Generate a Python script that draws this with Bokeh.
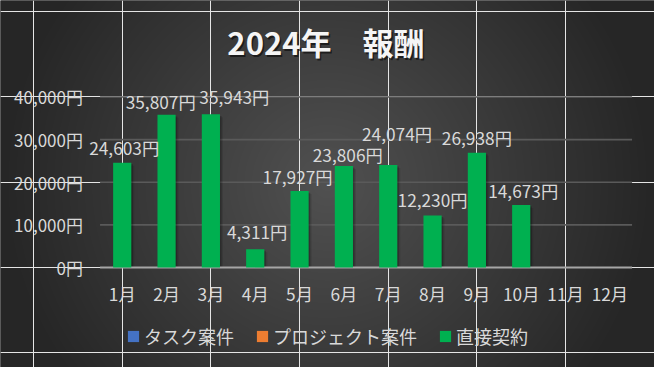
import numpy as np
from bokeh.plotting import figure
from bokeh.models import Range1d, ColumnDataSource, Legend, LegendItem
from bokeh.core.properties import value
from bokeh.embed import file_html
from bokeh.resources import INLINE

# ---------------- data ----------------
title_text = "2024年　報酬"
months = ["1月", "2月", "3月", "4月", "5月", "6月",
          "7月", "8月", "9月", "10月", "11月", "12月"]
series_names = ["タスク案件", "プロジェクト案件", "直接契約"]
task_values = [0, 0, 0, 0, 0, 0, 0, 0, 0, 0, 0, 0]
project_values = [0, 0, 0, 0, 0, 0, 0, 0, 0, 0, 0, 0]
direct_values = [24603, 35807, 35943, 4311, 17927, 23806,
                 24074, 12230, 26938, 14673, None, None]
y_ticks = [0, 10000, 20000, 30000, 40000]
y_tick_labels = ["0円", "10,000円", "20,000円", "30,000円", "40,000円"]

# ---------------- styles / layout ----------------
series_colors = ["#4472C4", "#ED7D31", "#00B050"]
label_dx = [2, -6, 24, 2, -2, 4, 9, 0, 0, 2]      # px, label shifts (Excel layout)
label_gap = [3, 1, 6, 5, 2, -1, 20, 4, 3, 2]      # px above bar top
FONT = "Noto Sans CJK JP"
TXT = "#d9d9d9"
LBL_SIZE = "17.3px"

W, H = 654, 367
REF_W, REF_H = 670.0, 383.0
SX, SY = W / REF_W, H / REF_H
# layout in reference pixels, scaled to canvas
PLOT_L, PLOT_R = 102.0 * SX, 647.0 * SX
Y0_PX, YTOP_PX = 278.7 * SY, 100.7 * SY
YTOP_VAL = 40000.0
BAR_W = 0.41

n = len(months)
cw = (PLOT_R - PLOT_L) / n
ppu = (Y0_PX - YTOP_PX) / YTOP_VAL
x_start = -0.5 - PLOT_L / cw
x_end = x_start + W / cw
y_start = -(H - Y0_PX) / ppu
y_end = y_start + H / ppu


def px_x(px):
    return x_start + px / cw


def px_y(py):
    return y_end - py / ppu


p = figure(width=W, height=H, x_range=Range1d(x_start, x_end),
           y_range=Range1d(y_start, y_end), output_backend="svg",
           toolbar_location=None, tools="", x_axis_location=None,
           y_axis_location=None, min_border=0, outline_line_color=None,
           background_fill_color="#262626", border_fill_color="#262626")

# radial background gradient (slightly oversized to avoid edge seams)
PAD = 4
GW, GH = W + 2 * PAD, H + 2 * PAD
yy, xx = np.mgrid[0:GH, 0:GW]
cy = ((GH - 0.5 - yy) - PAD) / SY
cx = ((xx + 0.5) - PAD) / SX
t = np.clip(np.hypot(cx - 335.0, cy - 191.5) / 335.0, 0, 1)
g = (0x51 + (0x26 - 0x51) * t).astype(np.uint8)
img = np.empty((GH, GW), dtype=np.uint32)
view = img.view(dtype=np.uint8).reshape((GH, GW, 4))
view[..., 0] = g
view[..., 1] = g
view[..., 2] = g
view[..., 3] = 255
p.image_rgba(image=[img], x=px_x(-PAD), y=px_y(H + PAD), dw=GW / cw,
             dh=GH / ppu, level="image")

# gridlines and baseline
grid_vals = y_ticks[1:]
p.segment(x0=[-0.5] * len(grid_vals), x1=[n - 0.5] * len(grid_vals),
          y0=grid_vals, y1=grid_vals, line_color="#5a5a5a", line_width=1.6)

# bars
xs = list(range(n))
direct_num = [np.nan if v is None else v for v in direct_values]

# soft drop shadow behind the bars
for off, alpha in ((3.0, 0.10), (1.6, 0.22)):
    p.vbar(x=[x + off / cw for x in xs], width=BAR_W,
           top=[v - off / ppu for v in direct_num], bottom=0,
           fill_color="#000000", fill_alpha=alpha, line_color=None)

p.segment(x0=[-0.5], x1=[n - 0.5], y0=[y_ticks[0]], y1=[y_ticks[0]],
          line_color="#a6a6a6", line_width=2)

src = ColumnDataSource(dict(x=xs, task=task_values, project=project_values,
                            direct=direct_num))
renderers = p.vbar_stack(["task", "project", "direct"], x="x", width=BAR_W,
                         color=series_colors, line_color=None, source=src)

# bar value labels
lab_x, lab_y, lab_t = [], [], []
for i, v in enumerate(direct_values):
    if v is not None:
        lab_x.append(i)
        lab_y.append(v)
        lab_t.append(f"{v:,}円")
lsrc = ColumnDataSource(dict(x=lab_x, y=lab_y, t=lab_t,
                             dx=[d * SX for d in label_dx[:len(lab_x)]],
                             dy=[-gp * SY for gp in label_gap[:len(lab_x)]]))
p.text(x="x", y="y", text="t", x_offset="dx", y_offset="dy", source=lsrc,
       text_font=value(FONT), text_font_size=LBL_SIZE, text_color=TXT,
       text_align="center", text_baseline="bottom")

# y tick labels
p.text(x=[-0.5] * len(y_ticks), y=y_ticks, text=y_tick_labels,
       x_offset=-17.5 * SX, text_font=value(FONT), text_font_size="17px",
       text_color=TXT, text_align="right", text_baseline="middle")

# month labels
p.text(x=xs, y=[0] * n, text=months, y_offset=27.3 * SY, text_font=value(FONT),
       text_font_size=LBL_SIZE, text_color=TXT, text_align="center",
       text_baseline="middle")

# title with shadow
TX, TY = 333.4 * SX, 42.3 * SY
p.text(x=[px_x(TX + 1.5)], y=[px_y(TY + 2.5)], text=[title_text],
       text_font=value(FONT), text_font_size="31px", text_font_style="bold",
       text_color="#000000", text_alpha=0.55, text_align="center",
       text_baseline="middle")
p.text(x=[px_x(TX)], y=[px_y(TY)], text=[title_text],
       text_font=value(FONT), text_font_size="31px", text_font_style="bold",
       text_color="#f5f5f5", text_align="center", text_baseline="middle")

# legend
legend = Legend(items=[LegendItem(label=nm, renderers=[r])
                       for nm, r in zip(series_names, renderers)],
                orientation="horizontal", location="bottom_center",
                margin=18, padding=0, spacing=21, label_standoff=4,
                glyph_width=14, glyph_height=14,
                label_text_font=FONT, label_text_font_size="18px",
                label_text_color=TXT, background_fill_alpha=0,
                border_line_color=None)
p.add_layout(legend, "center")

open("out.html", "w").write(file_html(p, INLINE))
